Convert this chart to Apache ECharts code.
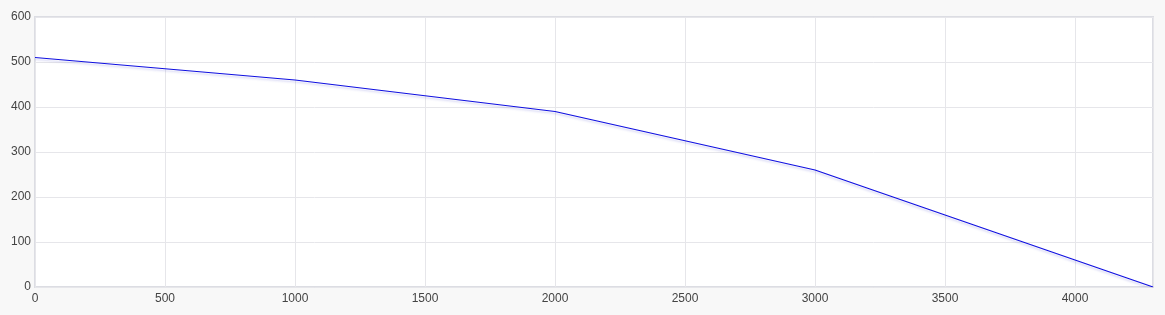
<!DOCTYPE html>
<html>
<head>
<meta charset="utf-8">
<script src="https://cdn.jsdelivr.net/npm/echarts@6/dist/echarts.min.js"></script>
<style>
html,body{margin:0;padding:0;background:#f8f8f8;}
#c{width:1165px;height:315px;}
</style>
</head>
<body>
<div id="c"></div>
<script>
const xValues = [0, 1000, 2000, 3000, 4300];
const yValues = [510, 460, 390, 260, 0];
const xTicks = { min: 0, max: 4300, interval: 500 };
const yTicks = { min: 0, max: 600, interval: 100 };

const chart = echarts.init(document.getElementById('c'));
chart.setOption({
  animation: false,
  backgroundColor: '#f8f8f8',
  grid: {
    left: 35, right: 12, top: 17, bottom: 28,
    show: true, backgroundColor: '#ffffff',
    borderColor: '#dcdde3', borderWidth: 2
  },
  xAxis: {
    type: 'value', min: xTicks.min, max: xTicks.max, interval: xTicks.interval,
    axisLine: { show: false }, axisTick: { show: false },
    splitLine: { show: true, lineStyle: { color: '#e6e6ea', width: 1 } },
    axisLabel: { color: '#444', fontSize: 12, fontFamily: 'Liberation Sans, Arial, sans-serif', showMaxLabel: false, margin: 6, formatter: v => String(v) }
  },
  yAxis: {
    type: 'value', min: yTicks.min, max: yTicks.max, interval: yTicks.interval,
    axisLine: { show: false }, axisTick: { show: false },
    splitLine: { show: true, lineStyle: { color: '#e6e6ea', width: 1 } },
    axisLabel: { color: '#444', fontSize: 12, fontFamily: 'Liberation Sans, Arial, sans-serif', margin: 4, formatter: v => String(v) }
  },
  series: [{
    type: 'line',
    data: xValues.map((x, i) => [x, yValues[i]]),
    showSymbol: false,
    lineStyle: { color: '#1010e0', width: 1.2, shadowColor: 'rgba(60,60,200,0.25)', shadowBlur: 2, shadowOffsetY: 2 }
  }]
});
</script>
</body>
</html>
